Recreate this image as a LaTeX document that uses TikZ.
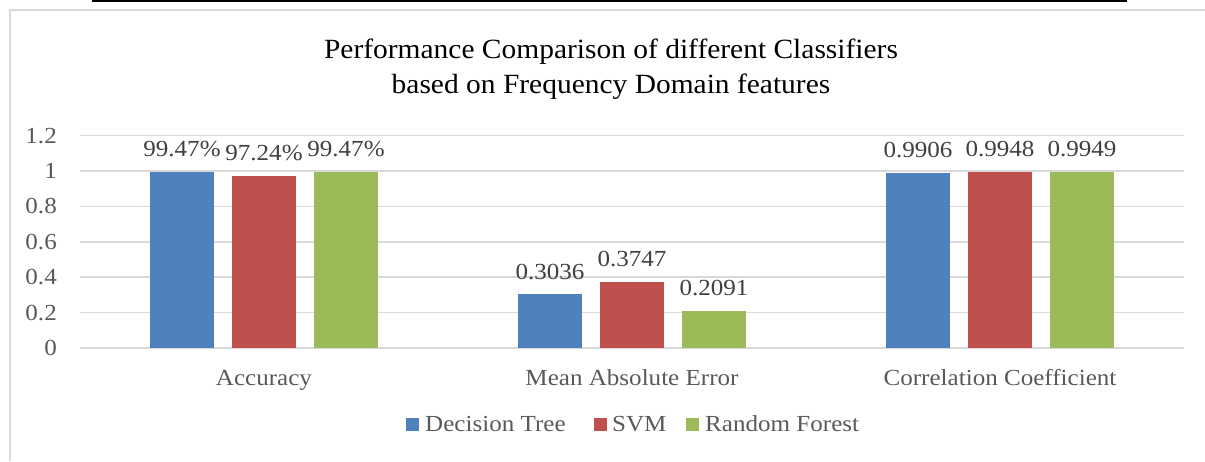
\documentclass[tikz,border=0pt]{standalone}
\usepackage{fontspec}
\setmainfont[FakeStretch=1.09]{Liberation Serif}
\newfontfamily\titlefont[FakeStretch=1.06]{Liberation Serif}
\definecolor{cblue}{HTML}{4F81BD}
\definecolor{cred}{HTML}{C0504D}
\definecolor{cgreen}{HTML}{9BBB59}
\definecolor{cgrid}{HTML}{D9D9D9}
\definecolor{ctext}{HTML}{595959}
\definecolor{clabel}{HTML}{404040}
\tikzset{
  gridline/.style={draw=cgrid, line width=1.5pt},
  frameline/.style={draw=cgrid, line width=1.5pt},
  bar/.style={minimum width=64pt, inner sep=0pt, outer sep=0pt, anchor=south},
  ticklabel/.style={anchor=base east, inner sep=0pt, text=ctext, font=\fontsize{23}{26}\selectfont},
  catlabel/.style={anchor=base, inner sep=0pt, text=ctext, font=\fontsize{23}{26}\selectfont},
  vallabel/.style={anchor=base, inner sep=0pt, text=clabel, font=\fontsize{23}{26}\selectfont},
  legtext/.style={anchor=base west, inner sep=0pt, text=ctext, font=\fontsize{23}{26}\selectfont},
  legkey/.style={minimum width=13pt, minimum height=13pt, inner sep=0pt, anchor=south west},
  titletext/.style={anchor=base, inner sep=0pt, text=black, font=\titlefont\fontsize{27.8}{30}\selectfont}
}
\begin{document}
\begin{tikzpicture}[x=1pt, y=-1pt]
\useasboundingbox (0,0) rectangle (1205,461);
% top black rule
\draw[line width=2pt] (92,1) -- (1127,1);
% chart frame
\draw[frameline] (10,461) -- (10,10) -- (1205,10);
% title
\node[titletext] (t1) at (611,58) {Performance Comparison of different Classifiers};
\node[titletext] (t2) at (611,93) {based on Frequency Domain features};
% grid lines and tick labels
\foreach \v/\lab in {0/0, 0.2/0.2, 0.4/0.4, 0.6/0.6, 0.8/0.8, 1/1, 1.2/1.2} {
  \draw[gridline] (80,348-\v*177) -- (1184,348-\v*177);
  \node[ticklabel] at (57,348-\v*177+7.5) {\lab};
}
% bars
\foreach \cx/\a/\b/\c/\la/\lb/\lc/\n in {
  264/0.9947/0.9724/0.9947/99.47\%/97.24\%/99.47\%/acc,
  632/0.3036/0.3747/0.2091/0.3036/0.3747/0.2091/mae,
  1000/0.9906/0.9948/0.9949/0.9906/0.9948/0.9949/cor} {
  \node[bar, fill=cblue, minimum height=\a*177pt] (\n-dt) at (\cx-82,348) {};
  \node[bar, fill=cred, minimum height=\b*177pt] (\n-svm) at (\cx,348) {};
  \node[bar, fill=cgreen, minimum height=\c*177pt] (\n-rf) at (\cx+82,348) {};
  \node[vallabel] at ([yshift=15pt]\n-dt.north) {\la};
  \node[vallabel] at ([yshift=15pt]\n-svm.north) {\lb};
  \node[vallabel] at ([yshift=15pt]\n-rf.north) {\lc};
}
% category labels
\node[catlabel] (c1) at (264,385) {Accuracy};
\node[catlabel] (c2) at (632,385) {Mean Absolute Error};
\node[catlabel] (c3) at (1000,385) {Correlation Coefficient};
% legend
\node[legkey, fill=cblue] (k1) at (406,431) {};
\node[legtext] (l1) at (425,431) {Decision Tree};
\node[legkey, fill=cred] (k2) at (594,431) {};
\node[legtext] (l2) at (612,431) {SVM};
\node[legkey, fill=cgreen] (k3) at (686,431) {};
\node[legtext] (l3) at (705,431) {Random Forest};
\end{tikzpicture}
\end{document}
